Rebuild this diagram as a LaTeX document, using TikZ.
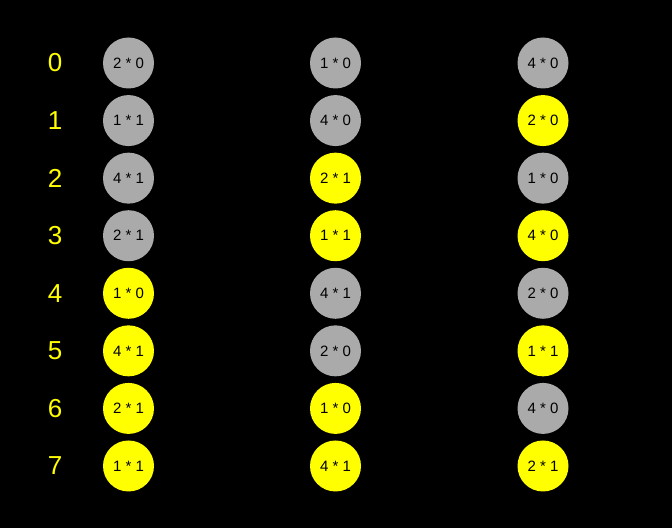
\documentclass[tikz,border=0pt]{standalone}
\usepackage{fontspec}
\setmainfont{Liberation Sans}
\definecolor{bggray}{HTML}{AAAAAA}
\definecolor{hiyellow}{HTML}{FFFF00}
\begin{document}
\begin{tikzpicture}[x=1pt,y=1pt,
  rowlabel/.style={text=hiyellow,font=\fontsize{26}{26}\selectfont,inner sep=0pt},
  ball/.style={circle,minimum size=51pt,inner sep=0pt,text=black,font=\fontsize{15}{15}\selectfont},
  off/.style={ball,fill=bggray},
  on/.style={ball,fill=hiyellow}]
\fill[black] (0,0) rectangle (672,528);
\useasboundingbox (0,0) rectangle (672,528);
\foreach \i in {0,...,7} {
  \node[rowlabel] (r\i) at (55,{528-63-57.57*\i}) {\i};
}
\foreach \i/\s/\t in {0/off/2 * 0,1/off/1 * 1,2/off/4 * 1,3/off/2 * 1,4/on/1 * 0,5/on/4 * 1,6/on/2 * 1,7/on/1 * 1} {
  \node[\s] (a\i) at (128.5,{528-63-57.57*\i}) {\t};
}
\foreach \i/\s/\t in {0/off/1 * 0,1/off/4 * 0,2/on/2 * 1,3/on/1 * 1,4/off/4 * 1,5/off/2 * 0,6/on/1 * 0,7/on/4 * 1} {
  \node[\s] (b\i) at (335.5,{528-63-57.57*\i}) {\t};
}
\foreach \i/\s/\t in {0/off/4 * 0,1/on/2 * 0,2/off/1 * 0,3/on/4 * 0,4/off/2 * 0,5/on/1 * 1,6/off/4 * 0,7/on/2 * 1} {
  \node[\s] (c\i) at (543,{528-63-57.57*\i}) {\t};
}
\end{tikzpicture}
\end{document}
